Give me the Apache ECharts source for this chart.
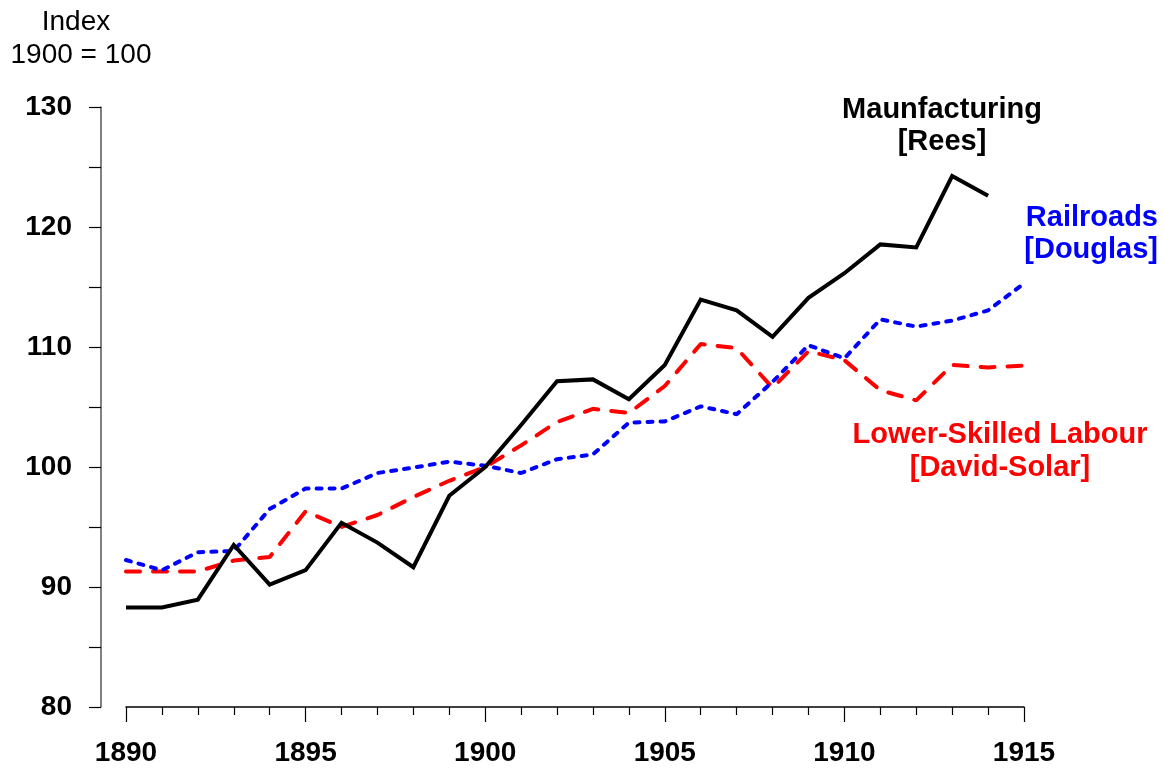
<!DOCTYPE html>
<html>
<head>
<meta charset="utf-8">
<script src="https://cdn.jsdelivr.net/npm/echarts@6/dist/echarts.min.js"></script>
<style>html,body{margin:0;padding:0;background:#fff}#c{width:1164px;height:768px}</style>
</head>
<body>
<div id="c"></div>
<script>
const years = [1890,1891,1892,1893,1894,1895,1896,1897,1898,1899,1900,1901,1902,1903,1904,1905,1906,1907,1908,1909,1910,1911,1912,1913,1914,1915];
const manufacturing = [88.3,88.3,88.95,93.5,90.2,91.4,95.35,93.7,91.65,97.6,100,103.5,107.15,107.3,105.65,108.5,113.95,113.05,110.85,114.1,116.15,118.55,118.3,124.25,122.6,null];
const railroads = [92.25,91.4,92.9,93.0,96.5,98.2,98.2,99.5,99.95,100.45,100.1,99.5,100.65,101.05,103.7,103.8,105.05,104.4,107.1,110.15,109.05,112.3,111.7,112.2,113.05,115.3];
const lowerSkilled = [91.3,91.3,91.3,92.2,92.5,96.3,95.0,96.0,97.5,98.85,100,101.8,103.75,104.85,104.5,106.75,110.25,109.9,106.6,109.65,108.9,106.4,105.55,108.5,108.3,108.45];
const yTicks = [80,90,100,110,120,130];
const xTicks = [1890,1895,1900,1905,1910,1915];

const pairs = arr => years.map((y,i)=>[y,arr[i]]);
const FONT = 'Liberation Sans, Arial, sans-serif';

const chart = echarts.init(document.getElementById('c'));
chart.setOption({
  animation:false,
  backgroundColor:'#fff',
  grid:{left:126,right:140,top:107,bottom:61,containLabel:false},
  xAxis:{
    type:'value',min:xTicks[0],max:xTicks[xTicks.length-1],interval:5,
    axisLine:{show:true,lineStyle:{color:'#000',width:1.5}},
    axisTick:{show:true,inside:false,length:15,lineStyle:{color:'#000',width:1.2}},
    minorTick:{show:true,splitNumber:5,length:8,lineStyle:{color:'#000',width:1.2}},
    splitLine:{show:false},
    axisLabel:{margin:32,color:'#000',fontFamily:FONT,fontWeight:'bold',fontSize:28,
      formatter:v=>xTicks.includes(v)?String(v):''}
  },
  yAxis:{
    type:'value',min:yTicks[0],max:yTicks[yTicks.length-1],interval:5,offset:25,
    axisLine:{show:true,lineStyle:{color:'#555',width:1.5}},
    axisTick:{show:true,inside:false,length:12,lineStyle:{color:'#000',width:1.2}},
    splitLine:{show:false},
    axisLabel:{margin:29,color:'#000',fontFamily:FONT,fontWeight:'bold',fontSize:28,
      formatter:v=>yTicks.includes(v)?String(v):''}
  },
  series:[
    {name:'Manufacturing',type:'line',data:pairs(manufacturing),showSymbol:false,symbol:'none',
      lineStyle:{color:'#000',width:4,join:'miter'},z:3},
    {name:'Lower-Skilled Labour',type:'line',data:pairs(lowerSkilled),showSymbol:false,symbol:'none',
      lineStyle:{color:'#ff0000',width:4,type:[14,13],cap:'round'},z:2},
    {name:'Railroads',type:'line',data:pairs(railroads),showSymbol:false,symbol:'none',
      lineStyle:{color:'#0000ff',width:4,type:[5,8],cap:'round'},z:2}
  ],
  graphic:[
    {type:'text',x:76,y:22,style:{text:'Index',fontFamily:FONT,fontSize:28,fill:'#000',align:'center',verticalAlign:'middle'}},
    {type:'text',x:81,y:55,style:{text:'1900 = 100',fontFamily:FONT,fontSize:28,fill:'#000',align:'center',verticalAlign:'middle'}},
    {type:'text',x:942,y:94,style:{text:'Maunfacturing\n[Rees]',fontFamily:FONT,fontWeight:'bold',fontSize:29,lineHeight:32,fill:'#000',align:'center',verticalAlign:'top'}},
    {type:'text',x:1158,y:202,style:{text:'Railroads\n[Douglas]',fontFamily:FONT,fontWeight:'bold',fontSize:29,lineHeight:32,fill:'#0000ff',align:'right',verticalAlign:'top'}},
    {type:'text',x:1000,y:418,style:{text:'Lower-Skilled Labour\n[David-Solar]',fontFamily:FONT,fontWeight:'bold',fontSize:29,lineHeight:33,fill:'#ff0000',align:'center',verticalAlign:'top'}}
  ]
});
</script>
</body>
</html>
